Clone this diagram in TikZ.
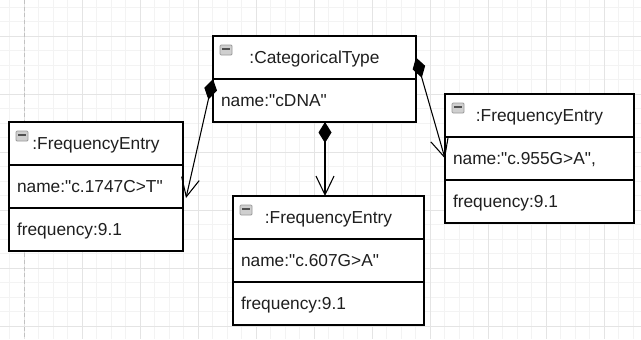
\documentclass[tikz,border=0pt]{standalone}
\usepackage{fontspec}
\setmainfont{Liberation Sans}[Ligatures=TeXOff]
\usetikzlibrary{arrows.meta}

\definecolor{txt}{HTML}{1F1F1F}
\definecolor{gridminor}{HTML}{F3F3F3}
\definecolor{gridmajor}{HTML}{E4E4E4}
\definecolor{pageline}{HTML}{C2C2C2}
\definecolor{iconfill}{HTML}{CFCFCF}
\definecolor{iconedge}{HTML}{9A9A9A}
\definecolor{icondark}{HTML}{505050}

\begin{document}
\begin{tikzpicture}[x=0.75pt, y=-0.75pt,
    every node/.style={font=\fontsize{13pt}{15pt}\selectfont, text=txt},
    part/.style={draw=black, fill=white, line width=1pt, outer sep=0pt,
        inner ysep=0pt, minimum height=32.25pt,
        text height=10pt, text depth=1pt, anchor=north west},
    head/.style={part, inner xsep=0pt, align=center, text width=#1},
    attr/.style={part, inner xsep=6pt, align=left, text width=#1},
    lastattr/.style={attr=#1, line width=1.5pt},
    link/.style={line width=0.8pt, black,
        {Diamond[length=15.75pt, width=9.75pt]}-{Straight Barb[length=14pt, width=13.5pt]}}]

    \useasboundingbox (0,0) rectangle (641,339);

    % Grid
    \foreach \i in {0,...,43}
        \draw[gridminor, line width=0.75pt] ({9.5+14.5*\i},0) -- ({9.5+14.5*\i},339);
    \foreach \j in {0,...,22}
        \draw[gridminor, line width=0.75pt] (0,{7+14.5*\j}) -- (641,{7+14.5*\j});
    \foreach \i in {0,...,10}
        \draw[gridmajor, line width=0.75pt] ({24+58*\i},0) -- ({24+58*\i},339);
    \foreach \j in {0,...,5}
        \draw[gridmajor, line width=0.75pt] (0,{36+58*\j}) -- (641,{36+58*\j});

    % Page edge
    \draw[pageline, line width=0.75pt, dash pattern=on 3pt off 2pt] (24,0) -- (24,339);

    % CategoricalType
    \node[head=152.25pt] (catHead) at (213,36) {:CategoricalType};
    \node[attr=140.25pt] (catName) at (catHead.south west) {name:"cDNA"};

    % FrequencyEntry, left
    \node[head=130.5pt] (freqL-head) at (9,122) {:FrequencyEntry};
    \node[attr=118.5pt] (freqL-name) at (freqL-head.south west) {name:"c.1747C>T"};
    \node[lastattr=118.5pt] (freqL-freq) at (freqL-name.south west) {frequency:9.1};

    % FrequencyEntry, middle
    \node[head=143.25pt] (freqM-head) at (233,196) {:FrequencyEntry};
    \node[attr=131.25pt] (freqM-name) at (freqM-head.south west) {name:"c.607G>A"};
    \node[lastattr=131.25pt] (freqM-freq) at (freqM-name.south west) {frequency:9.1};

    % FrequencyEntry, right
    \node[head=141.75pt] (freqR-head) at (445,94) {:FrequencyEntry};
    \node[attr=129.75pt] (freqR-name) at (freqR-head.south west) {name:"c.955G>A",};
    \node[lastattr=129.75pt] (freqR-freq) at (freqR-name.south west) {frequency:9.1};

    % Collapse icons
    \foreach \n in {catHead, freqL-head, freqM-head, freqR-head} {
        \draw[iconedge, fill=iconfill, line width=0.6pt, rounded corners=0.8pt]
            ([shift={(7,9)}]\n.north west) rectangle +(12,10);
        \draw[icondark, line width=1.5pt] ([shift={(9,13)}]\n.north west) -- +(8,0);
    }

    % Composition links
    \coordinate (tipL) at ([shift={(3,11.5)}]freqL-name.east);
    \coordinate (srcM) at ([shift={(10.5,0)}]catName.south);
    \coordinate (tipM) at (srcM |- freqM-head.north);
    \draw[link] (catHead.south west) -- (tipL);
    \draw[link] (srcM) -- (tipM);
    \draw[link] (catHead.east) -- (freqR-name.west);

\end{tikzpicture}
\end{document}
